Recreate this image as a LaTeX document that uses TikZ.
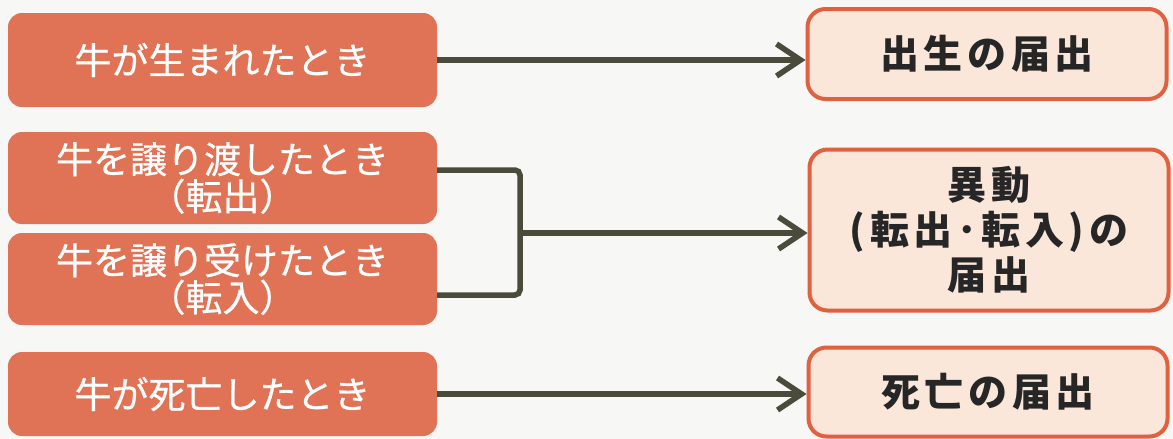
\documentclass[tikz,border=0pt]{standalone}
\usepackage{fontspec}
\newfontfamily\jpfont{Noto Sans CJK JP}[FakeBold=0.6]
\newfontfamily\jpfontb{Noto Sans CJK JP}[LetterSpace=12]
\usetikzlibrary{positioning}
\usetikzlibrary{arrows.meta}
\definecolor{boxorange}{HTML}{E07355}
\definecolor{boxpeach}{HTML}{FBE6DA}
\definecolor{boxline}{HTML}{E0603F}
\definecolor{arrowgray}{HTML}{4B4B3B}
\definecolor{paper}{HTML}{F7F7F5}
\tikzset{
    boxl/.style = {rectangle, rounded corners=14pt, fill=boxorange, text=white, align=center, minimum width=429pt, font=\jpfont\fontsize{37}{37}\selectfont},
    boxr/.style = {rectangle, rounded corners=18pt, draw=boxline, line width=4pt, fill=boxpeach, text=black!85, align=center, minimum width=359pt, font=\jpfontb\bfseries\fontsize{39}{45}\selectfont},
    edgea/.style = {-{Straight Barb[length=24pt,width=32pt]}, line width=5.5pt, arrowgray}, % arrow
    edgeb/.style = {-, line width=5.5pt, arrowgray, rounded corners=5pt} % bracket
}
\begin{document}
\begin{tikzpicture}[x=1pt, y=-1pt]
  \fill[paper] (0,0) rectangle (1173,439);
  % left column
  \node[boxl, minimum height=94pt] (L1) at (222.5,60) {牛が生まれたとき};
  \node[boxl, minimum height=92pt] (L2) at (222.5,178) {牛を譲り渡したとき\\（転出）};
  \node[boxl, minimum height=92pt] (L3) at (222.5,279) {牛を譲り受けたとき\\（転入）};
  \node[boxl, minimum height=84pt] (L4) at (222.5,394) {牛が死亡したとき};
  % right column
  \node[boxr, minimum height=90pt] (R1) at (987,54) {出生の届出};
  \node[boxr, minimum height=161pt] (R2) at (989,230) {異動\\(転出･転入)の\\届出};
  \node[boxr, minimum height=89pt] (R3) at (988,392) {死亡の届出};
  \coordinate (bt) at (520,170);
  \coordinate (bb) at (520,295);
  \coordinate (bm) at (520,233);
  \draw[edgeb] (L2.east |- bt) -- (bt) -- (bb) -- (L3.east |- bb);
  \draw[edgea] (L1.east) -- (L1.east -| R1.west);
  \draw[edgea] (bm) -- (bm -| R2.west);
  \draw[edgea] (L4.east) -- (L4.east -| R3.west);
\end{tikzpicture}
\end{document}
